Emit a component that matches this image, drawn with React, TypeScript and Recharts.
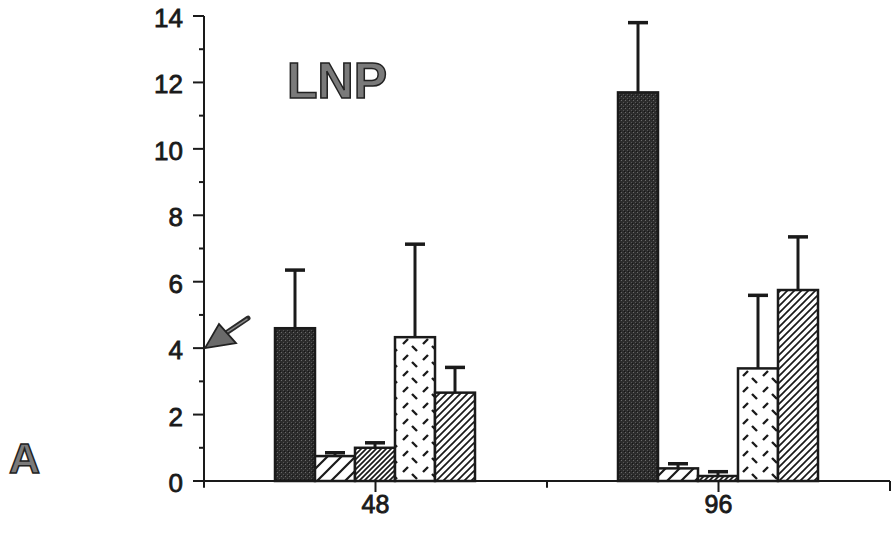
import React from 'react';
import { BarChart, Bar, XAxis, YAxis, ReferenceLine } from 'recharts';

const categories = ['48', '96'];
const s1Values = [4.6, 11.7];
const s1Err = [1.75, 2.1];
const s2Values = [0.75, 0.38];
const s2Err = [0.1, 0.14];
const s3Values = [1.0, 0.15];
const s3Err = [0.15, 0.13];
const s4Values = [4.33, 3.39];
const s4Err = [2.8, 2.2];
const s5Values = [2.66, 5.75];
const s5Err = [0.76, 1.6];
const yTicks = [0, 1, 2, 3, 4, 5, 6, 7, 8, 9, 10, 11, 12, 13, 14];
const panelLabel = 'A';
const titleLabel = 'LNP';

const data = categories.map((c, i) => ({
  time: c,
  s1: s1Values[i], s1e: s1Err[i],
  s2: s2Values[i], s2e: s2Err[i],
  s3: s3Values[i], s3e: s3Err[i],
  s4: s4Values[i], s4e: s4Err[i],
  s5: s5Values[i], s5e: s5Err[i],
}));

const FONT = '"Liberation Sans", Arial, Helvetica, sans-serif';
const INK = '#1a1a1a';

const YTick = (props: any) => {
  const { x, y, payload } = props;
  const v = payload.value;
  const major = v % 2 === 0;
  return (
    <g>
      <line x1={x - (major ? 11 : 5)} x2={x} y1={y} y2={y} stroke={INK} strokeWidth={2} />
      {major && (
        <text x={x - 21} y={y + 2} textAnchor="end" dominantBaseline="central"
          fontFamily={FONT} fontSize={26} fill={INK} stroke={INK} strokeWidth={0.8}>{v}</text>
      )}
      {v === 4 && (
        <g>
          <line x1={x + 44} y1={y - 30} x2={x + 13} y2={y - 9} stroke="#2a2a2a" strokeWidth={5} strokeLinecap="round" />
          <line x1={x + 43} y1={y - 29} x2={x + 14} y2={y - 10} stroke="#888" strokeWidth={1.5} strokeLinecap="round" />
          <polygon points={`${x + 1},${y} ${x + 15},${y - 24} ${x + 32},${y - 5}`} fill="#6a6a6a" stroke="#222" strokeWidth={1.8} />
        </g>
      )}
    </g>
  );
};

const XTick = (props: any) => {
  const { x, y, payload } = props;
  return (
    <text x={x} y={y + 19} textAnchor="middle" fontFamily={FONT} fontSize={25} fill={INK}
      stroke={INK} strokeWidth={0.8}>
      {payload.value}
    </text>
  );
};

const makeShape = (dataKey: string, errKey: string) => (props: any) => {
  const { x, y, width, height, fill, payload } = props;
  const value = payload[dataKey];
  const err = payload[errKey];
  const pxPerUnit = value ? height / value : 0;
  const top = y - err * pxPerUnit;
  const cx = x + width / 2;
  return (
    <g>
      <rect x={x} y={y} width={width} height={height} fill={fill} stroke={INK} strokeWidth={2.5} />
      <line x1={cx} x2={cx} y1={y} y2={top} stroke={INK} strokeWidth={3} />
      <line x1={cx - 10} x2={cx + 10} y1={top} y2={top} stroke={INK} strokeWidth={3.5} />
    </g>
  );
};

export default function App() {
  return (
    <div style={{ position: 'absolute', left: 0, top: 0, width: 894, height: 539, background: '#fff' }}>
      <BarChart width={894} height={539} data={data}
        margin={{ top: 16, right: 4, left: 144, bottom: 0 }}
        barGap={0} barCategoryGap={71}>
        <defs>
          <pattern id="pDark" width="4" height="4" patternUnits="userSpaceOnUse">
            <rect width="4" height="4" fill="#2c2c2c" />
            <rect x="1" y="0" width="1" height="1" fill="#6a6a6a" />
            <rect x="3" y="2" width="1" height="1" fill="#555" />
            <rect x="0" y="3" width="1" height="1" fill="#151515" />
          </pattern>
          <pattern id="pLight" width="14" height="14" patternUnits="userSpaceOnUse">
            <rect width="14" height="14" fill="#fff" />
            <path d="M0,14 L14,0 M-3,3 L3,-3 M11,17 L17,11" stroke={INK} strokeWidth="2.2" />
          </pattern>
          <pattern id="pDense" width="5" height="5" patternUnits="userSpaceOnUse">
            <rect width="5" height="5" fill="#fff" />
            <path d="M0,5 L5,0 M-1,1 L1,-1 M4,6 L6,4" stroke={INK} strokeWidth="1.7" />
          </pattern>
          <pattern id="pDash" width="20" height="16" patternUnits="userSpaceOnUse">
            <rect width="20" height="16" fill="#fff" />
            <path d="M3,8 L8,3 M12,10 L17,15" stroke={INK} strokeWidth="2.4" />
          </pattern>
          <pattern id="pHatch" width="7" height="7" patternUnits="userSpaceOnUse">
            <rect width="7" height="7" fill="#fff" />
            <path d="M0,7 L7,0 M-2,2 L2,-2 M5,9 L9,5" stroke={INK} strokeWidth="1.7" />
          </pattern>
        </defs>
        <XAxis dataKey="time" height={58} axisLine={{ stroke: INK, strokeWidth: 2 }}
          tickLine={{ stroke: INK, strokeWidth: 2 }} tickSize={11} tick={<XTick />} />
        <YAxis width={60} domain={[0, 14]} ticks={yTicks} interval={0}
          axisLine={{ stroke: INK, strokeWidth: 2 }} tickLine={false} tickSize={0} tickMargin={0}
          tick={<YTick />} />
        <ReferenceLine segment={[{ x: '48', y: 0 }, { x: '48', y: -0.2 }]} position="end"
          stroke={INK} strokeWidth={2} ifOverflow="visible" />
        <ReferenceLine segment={[{ x: '48', y: 0 }, { x: '48', y: -0.2 }]} position="start"
          stroke={INK} strokeWidth={2} ifOverflow="visible" />
        <ReferenceLine segment={[{ x: '96', y: 0 }, { x: '96', y: -0.3 }]} position="end"
          stroke={INK} strokeWidth={2} ifOverflow="visible" />
        <Bar dataKey="s1" fill="url(#pDark)" isAnimationActive={false} shape={makeShape('s1', 's1e')} />
        <Bar dataKey="s2" fill="url(#pLight)" isAnimationActive={false} shape={makeShape('s2', 's2e')} />
        <Bar dataKey="s3" fill="url(#pDense)" isAnimationActive={false} shape={makeShape('s3', 's3e')} />
        <Bar dataKey="s4" fill="url(#pDash)" isAnimationActive={false} shape={makeShape('s4', 's4e')} />
        <Bar dataKey="s5" fill="url(#pHatch)" isAnimationActive={false} shape={makeShape('s5', 's5e')} />
        <text x={287} y={98} fontFamily={FONT} fontWeight="bold" fontSize={50} fill="#7a7a7a"
          stroke="#222" strokeWidth={1.5}>{titleLabel}</text>
        <text x={9} y={473} fontFamily={FONT} fontWeight="bold" fontSize={43} fill="#7a7a7a"
          stroke="#222" strokeWidth={1.5}>{panelLabel}</text>
      </BarChart>
    </div>
  );
}
